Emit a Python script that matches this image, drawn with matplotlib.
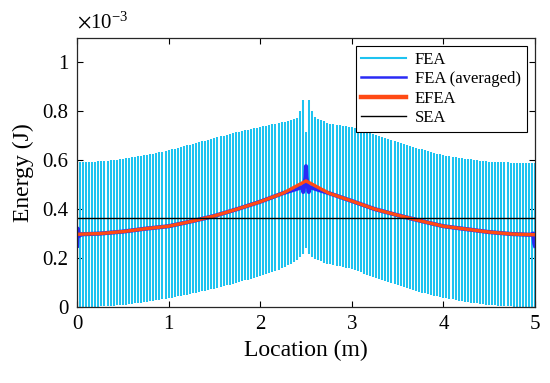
import numpy as np
import matplotlib
matplotlib.use("Agg")
import matplotlib.pyplot as plt
from matplotlib.lines import Line2D

plt.rcParams['font.family'] = ['Liberation Serif', 'DejaVu Serif']
plt.rcParams['mathtext.fontset'] = 'stix'

CL_FEA = "#1EC3F0"
CL_AVG = "#2A2AF5"
CL_EFEA = "#FF4A14"

# values in units of 1e-3 J
# FEA envelope (upper / lower bounds of the oscillation)
env_loc = [0.0, 0.25, 0.5, 0.75, 1.0, 1.25, 1.5, 1.75, 2.0, 2.25, 2.4,
           2.433, 2.467, 2.5, 2.533, 2.567, 2.6, 2.75, 3.0, 3.25, 3.5,
           3.75, 4.0, 4.25, 4.5, 4.75, 5.0]
env_upper = [0.59, 0.595, 0.605, 0.62, 0.64, 0.665, 0.69, 0.715, 0.735, 0.755, 0.77,
             0.80, 0.846, 0.716, 0.846, 0.80, 0.775, 0.75, 0.735, 0.705, 0.675,
             0.645, 0.62, 0.605, 0.593, 0.59, 0.59]
env_lower = [0.0, 0.002, 0.008, 0.02, 0.035, 0.055, 0.075, 0.10, 0.125, 0.16, 0.19,
             0.205, 0.215, 0.24, 0.215, 0.205, 0.195, 0.175, 0.155, 0.12, 0.088,
             0.06, 0.038, 0.02, 0.008, 0.002, 0.0]
n_stripes = 151

# FEA averaged
avg_loc = [0.0, 0.008, 0.02, 0.05, 0.25, 0.5, 0.75, 1.0, 1.25, 1.5, 1.75, 2.0, 2.25,
           2.46, 2.47, 2.495, 2.5, 2.505, 2.53, 2.54, 2.75, 3.0, 3.25, 3.5, 3.75,
           4.0, 4.25, 4.5, 4.75, 4.95, 4.98, 4.992, 5.0]
avg_val = [0.25, 0.32, 0.29, 0.297, 0.30, 0.308, 0.32, 0.33, 0.35, 0.372, 0.40, 0.43, 0.465,
           0.49, 0.47, 0.53, 0.575, 0.53, 0.47, 0.49, 0.465, 0.433, 0.40, 0.375, 0.352,
           0.33, 0.318, 0.306, 0.298, 0.295, 0.30, 0.26, 0.25]

# EFEA
efea_loc = [0.0, 0.25, 0.5, 0.75, 1.0, 1.25, 1.5, 1.75, 2.0, 2.25, 2.5,
            2.75, 3.0, 3.25, 3.5, 3.75, 4.0, 4.25, 4.5, 4.75, 5.0]
efea_val = [0.297, 0.30, 0.308, 0.32, 0.33, 0.35, 0.372, 0.40, 0.43, 0.465, 0.515,
            0.465, 0.433, 0.40, 0.375, 0.352, 0.33, 0.318, 0.306, 0.298, 0.295]

# SEA
sea_val = 0.364

fig = plt.figure(figsize=(5.5, 3.83), dpi=100)
ax = fig.add_axes([0.14, 0.1984, 0.8327, 0.7032])

stripe_x = np.linspace(env_loc[0], env_loc[-1], n_stripes)
ax.vlines(stripe_x, np.interp(stripe_x, env_loc, env_lower),
          np.interp(stripe_x, env_loc, env_upper), color=CL_FEA, lw=1.45)
ax.plot(avg_loc, avg_val, color=CL_AVG, lw=3.0)
ax.plot(efea_loc, efea_val, color=CL_EFEA, lw=2.4)
ax.axhline(sea_val, color="black", lw=1.0)

ax.set_xlim(0, 5)
ax.set_ylim(0, 1.1)
ax.set_xticks([0, 1, 2, 3, 4, 5])
ax.set_yticks([0, 0.2, 0.4, 0.6, 0.8, 1.0])
ax.set_yticklabels(["0", "0.2", "0.4", "0.6", "0.8", "1"])
ax.tick_params(direction="in", top=True, right=True, length=4, width=0.8,
               labelsize=15, pad=6)
for s in ax.spines.values():
    s.set_linewidth(0.9)
    s.set_color("#262626")
ax.set_xlabel("Location (m)", fontsize=17, labelpad=4)
ax.set_ylabel("Energy (J)", fontsize=17, labelpad=6)
ax.text(0.0, 1.015, r"$\times\mathregular{10^{-3}}$", transform=ax.transAxes,
        fontsize=15, ha="left", va="bottom")

handles = [Line2D([], [], color=CL_FEA, lw=1.5),
           Line2D([], [], color=CL_AVG, lw=1.8),
           Line2D([], [], color=CL_EFEA, lw=3.2),
           Line2D([], [], color="black", lw=1.0)]
leg = ax.legend(handles, ["FEA", "FEA (averaged)", "EFEA", "SEA"],
                loc="upper right", fontsize=12, fancybox=False, framealpha=1,
                edgecolor="black", handlelength=2.7, handletextpad=0.5,
                borderpad=0.35, labelspacing=0.2, borderaxespad=0.5)
leg.get_frame().set_linewidth(0.8)

fig.savefig("out.png", dpi=100)
